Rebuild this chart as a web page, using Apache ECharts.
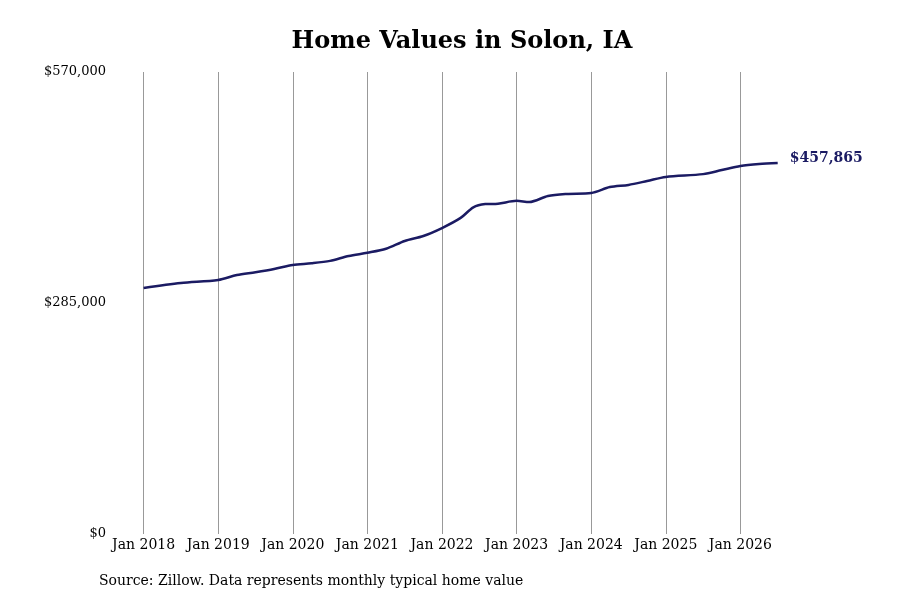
<!DOCTYPE html>
<html><head><meta charset="utf-8">
<script src="https://cdn.jsdelivr.net/npm/echarts@6/dist/echarts.min.js"></script>
<style>html,body{margin:0;background:#fff}#c{width:900px;height:600px}</style>
</head><body><div id="c"></div>
<script>
const dates = [2018.0,2018.5,2019.0,2019.25,2019.5,2019.75,2020.0,2020.25,2020.5,2020.75,2021.0,2021.25,2021.5,2021.75,2022.0,2022.25,2022.42,2022.58,2022.75,2023.0,2023.17,2023.42,2023.67,2024.0,2024.25,2024.5,2024.75,2025.0,2025.5,2025.75,2026.0,2026.25,2026.5];
const values = [303500,309700,313400,319500,323000,327000,332000,334000,337000,343000,347000,352000,361500,367700,377500,390000,403000,407000,407500,411000,409600,417000,419500,420700,428000,430700,435500,440500,444000,449000,454000,456500,457865];
const yTicks = [0,285000,570000];
const title = 'Home Values in Solon, IA';
const source = 'Source: Zillow. Data represents monthly typical home value';
const F = '"DejaVu Serif", serif';
const gridColors = ['rgba(0,0,0,0)','#999','#999','#999','#999','#999','#999','#999','#999','#999','rgba(0,0,0,0)'];
const chart = echarts.init(document.getElementById('c'));
chart.setOption({
  animation:false,
  graphic:[
    {type:'text',x:462,y:30,style:{text:title,font:'bold 24px '+F,fill:'#000',textAlign:'center'}},
    {type:'text',left:99,top:574,style:{text:source,font:'14px '+F,fill:'#000'}}],
  grid:{left:69,right:85,top:72,bottom:66},
  xAxis:{type:'value',min:2017,max:2027,interval:1,
    axisLine:{show:false},axisTick:{show:false},
    splitLine:{show:true,lineStyle:{color:gridColors,width:1}},
    axisLabel:{showMinLabel:false,showMaxLabel:false,fontFamily:F,fontSize:14,color:'#000',margin:4,
      formatter:v=>'Jan '+v}},
  yAxis:{type:'value',min:yTicks[0],max:yTicks[2],interval:yTicks[1],
    axisLine:{show:false},axisTick:{show:false},splitLine:{show:false},
    axisLabel:{fontFamily:F,fontSize:13,color:'#000',margin:-37,
      formatter:v=>'$'+v.toLocaleString('en-US')}},
  series:[{type:'line',data:dates.map((d,i)=>[d,values[i]]),smooth:0.3,showSymbol:false,
    lineStyle:{color:'#1b1b63',width:2.5},
    endLabel:{show:true,distance:12,offset:[0,-5],fontFamily:F,fontSize:14,fontWeight:'bold',color:'#1b1b63',
      formatter:p=>'$'+p.value[1].toLocaleString('en-US')}}]
});
</script></body></html>
